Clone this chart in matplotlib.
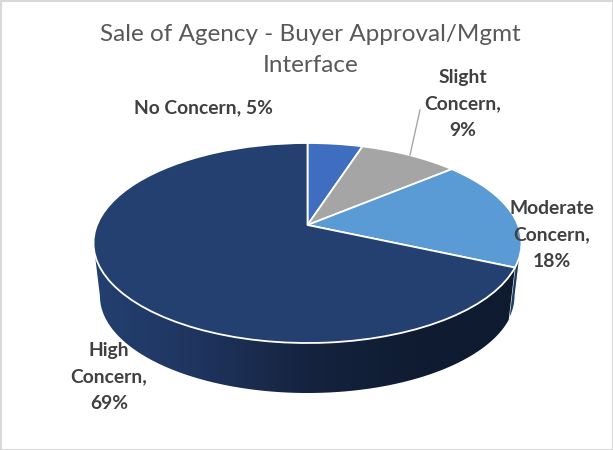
import numpy as np
import matplotlib
matplotlib.use("Agg")
import matplotlib.pyplot as plt
from matplotlib.colors import LinearSegmentedColormap
from matplotlib.patches import Polygon, Rectangle
from matplotlib.transforms import Transform

title = "Sale of Agency - Buyer Approval/Mgmt\nInterface"
categories = ["No Concern", "Slight Concern", "Moderate Concern", "High Concern"]
values = [5, 9, 18, 69]
label_texts = ["No Concern, 5%", "Slight\nConcern,\n9%", "Moderate\nConcern,\n18%", "High\nConcern,\n69%"]
label_pos = [(203, 108), (463, 104), (552, 235), (109, 377)]
colors = ["#3F6DBF", "#A5A5A5", "#5A9AD5", "#244071"]

plt.rcParams["font.family"] = ["Lato", "DejaVu Sans"]
W, H = 613, 450
fig = plt.figure(figsize=(W / 100, H / 100), dpi=100)
ax = fig.add_axes([0, 0, 1, 1])

CX, CY, K, B, C, A = 307.5, 243.0, 0.18, 100.0, -18.0, 210.5


class Tilt(Transform):
    """Projects the unit-circle pie plane onto the tilted disc, in pixels."""
    input_dims = output_dims = 2
    has_inverse = False

    def transform_non_affine(self, xy):
        xy = np.asarray(xy, float)
        d = 1 + K * xy[:, 1]
        return np.column_stack((CX + A * xy[:, 0] / d, CY + (-B * xy[:, 1] + C) / d))


tilt = Tilt()


def rim(deg):
    a = np.radians(deg)
    return tilt.transform_non_affine(np.column_stack((np.cos(a), np.sin(a))))


def lower(pts):
    return np.column_stack((CX + (pts[:, 0] - CX) * 0.97, CY + (pts[:, 1] - CY) * 0.97 + 53))


wedges, _ = ax.pie(values, colors=colors, startangle=90, counterclock=False,
                   wedgeprops=dict(edgecolor="white", linewidth=1.3, joinstyle="round"))
ax.set_aspect("auto")
ax.set_xlim(0, W)
ax.set_ylim(H, 0)
ax.axis("off")
for w in wedges:
    w.set_transform(tilt + ax.transData)
    w.set_zorder(5)

# side wall of the disc, taken from the slice shares
widest = np.degrees(np.arcsin(K))  # math angle offset where the rim is widest
split = 450 - 360 * sum(values[:3]) / sum(values)  # right end of the High slice
arc = np.linspace(180 + widest, split, 200)
top = rim(arc)
wall = Polygon(np.vstack((top, lower(top)[::-1])), closed=True, transform=ax.transData,
               facecolor="none", edgecolor="none")
ax.add_patch(wall)
cmap = LinearSegmentedColormap.from_list(
    "wall", [(0, "#234070"), (0.22, "#203661"), (0.5, "#15233F"), (0.78, "#0E1B30"), (1, "#0E1B30")])
img = ax.imshow(np.linspace(0, 1, 256)[None, :], extent=(93, 521, H, 0), cmap=cmap,
                aspect="auto", zorder=2, interpolation="bilinear")
img.set_clip_path(wall)
ax.set_xlim(0, W)
ax.set_ylim(H, 0)

# thin sliver of the Moderate slice's wall at the right
arc2 = np.linspace(split, 360 - widest, 40)
top2 = rim(arc2)
ax.add_patch(Polygon(np.vstack((top2, lower(top2)[::-1])), closed=True, facecolor="#1D3F66",
                     edgecolor="white", linewidth=0.8, zorder=1.5))

# leader line for the Slight Concern label
ax.plot([410, 420], [155, 110], color="#A6A6A6", lw=1.0, zorder=6)

ax.text(310.5, 50, title, ha="center", va="center", fontsize=17.5, color="#595959",
        linespacing=1.6, zorder=8)
for txt, (x, y) in zip(label_texts, label_pos):
    ax.text(x, y, txt, ha="center", va="center", fontsize=13.9, fontweight="bold",
            color="#404040", linespacing=1.65, zorder=8)

ax.add_patch(Rectangle((1, 0.5), W - 1.5, H - 1, facecolor="none", edgecolor="#D9D9D9",
                       linewidth=1.5, zorder=9, clip_on=False))
fig.savefig("out.png", dpi=100, facecolor="white")
